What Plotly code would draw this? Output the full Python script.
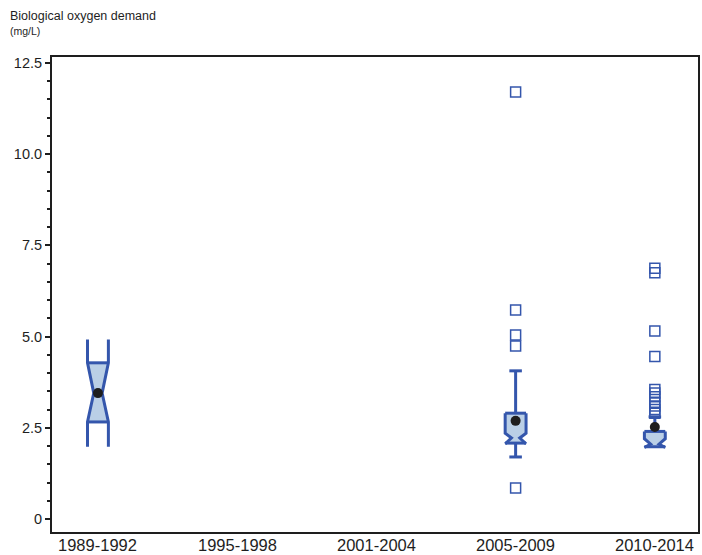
import plotly.graph_objects as go

# ---- data ----
categories = ["1989-1992", "1995-1998", "2001-2004", "2005-2009", "2010-2014"]
q1 = [2.66, None, None, 2.08, 1.98]
median = [3.45, None, None, 2.22, 2.05]
q3 = [4.28, None, None, 2.90, 2.40]
notch_lo = [1.98, None, None, 2.06, 1.96]
notch_hi = [4.92, None, None, 2.35, 2.20]
whisker_lo = [None, None, None, 1.70, None]
whisker_hi = [None, None, None, 4.06, 2.80]
means = [3.45, None, None, 2.69, 2.52]
outliers = [
    [],
    [],
    [],
    [11.7, 5.73, 5.04, 4.74, 0.85],
    [6.87, 6.75, 5.15, 4.45, 3.55, 3.45, 3.35, 3.2, 3.1, 3.0, 2.9],
]
y_tickvals = [0, 2.5, 5.0, 7.5, 10.0, 12.5]
y_ticktext = ["0", "2.5", "5.0", "7.5", "10.0", "12.5"]

# ---- style ----
BLUE = "rgb(52,86,172)"
FILL = "rgb(186,207,230)"
INK = "rgb(30,30,30)"
HW = 0.075      # box half width (x units)
WAIST = 0.03    # notch waist half width
CAP = 0.045     # whisker cap half width
LW = 3

fig = go.Figure()

for i, cat in enumerate(categories):
    if q1[i] is None:
        continue
    x0 = i
    pts = sorted([(q3[i], HW), (notch_hi[i], HW), (median[i], WAIST),
                  (q1[i], HW), (notch_lo[i], HW)], key=lambda p: -p[0])
    # fill (between Q1 and Q3)
    inner = [p for p in pts if q1[i] - 1e-9 <= p[0] <= q3[i] + 1e-9]
    fx = [x0 - w for y, w in inner] + [x0 + w for y, w in reversed(inner)]
    fy = [y for y, w in inner] + [y for y, w in reversed(inner)]
    fig.add_trace(go.Scatter(x=fx, y=fy, fill="toself", fillcolor=FILL,
                             mode="none", hoverinfo="skip", showlegend=False))
    # whiskers
    for wv, base in ((whisker_hi[i], q3[i]), (whisker_lo[i], q1[i])):
        if wv is None:
            continue
        fig.add_trace(go.Scatter(x=[x0, x0, None, x0 - CAP, x0 + CAP],
                                 y=[base, wv, None, wv, wv], mode="lines",
                                 line=dict(color=BLUE, width=LW),
                                 hoverinfo="skip", showlegend=False))
    # outline sides
    lx = [x0 - w for y, w in pts]
    rx = [x0 + w for y, w in pts]
    ys = [y for y, w in pts]
    fig.add_trace(go.Scatter(
        x=lx + [None] + rx + [None, x0 - HW, x0 + HW, None, x0 - HW, x0 + HW],
        y=ys + [None] + ys + [None, q3[i], q3[i], None, q1[i], q1[i]],
        mode="lines", line=dict(color=BLUE, width=LW),
        hoverinfo="skip", showlegend=False))
    # outliers
    if outliers[i]:
        fig.add_trace(go.Scatter(x=[x0] * len(outliers[i]), y=outliers[i],
                                 mode="markers",
                                 marker=dict(symbol="square-open", size=10,
                                             color=BLUE, line=dict(width=1.5)),
                                 showlegend=False))
    # mean
    fig.add_trace(go.Scatter(x=[x0], y=[means[i]], mode="markers",
                             marker=dict(color=INK, size=10),
                             showlegend=False))

# category labels placed just below the axis line
x_labels = [dict(text=c, x=i, xref="x", yref="paper", y=-0.004,
                 xanchor="center", yanchor="top", showarrow=False,
                 font=dict(size=16.5, color=INK))
            for i, c in enumerate(categories)]

fig.update_layout(
    width=702, height=555,
    margin=dict(l=52, r=4, t=57, b=23, autoexpand=False),
    paper_bgcolor="white", plot_bgcolor="white",
    font=dict(family="Liberation Sans, Arial, sans-serif", color=INK),
    showlegend=False,
    xaxis=dict(range=[-0.33, 4.31], tickvals=list(range(len(categories))),
               ticktext=categories, showticklabels=False, ticks="",
               showgrid=False, zeroline=False,
               showline=True, linecolor=INK, linewidth=2, mirror=True,
               automargin=False),
    yaxis=dict(range=[-0.356, 12.66], tickvals=y_tickvals, ticktext=y_ticktext,
               ticks="outside", ticklen=5, tickwidth=2, tickcolor=INK,
               minor=dict(dtick=0.5, tick0=0, ticks="outside", ticklen=3,
                          tickwidth=2, tickcolor=INK, showgrid=False),
               showgrid=False, zeroline=False, showline=True,
               linecolor=INK, linewidth=2, mirror=True,
               tickfont=dict(size=14.5), automargin=False),
    annotations=[
        dict(text="Biological oxygen demand", xref="paper", yref="paper",
             x=-0.068, y=1.086, xanchor="left", yanchor="middle",
             showarrow=False, font=dict(size=12.5)),
        dict(text="(mg/L)", xref="paper", yref="paper",
             x=-0.068, y=1.054, xanchor="left", yanchor="middle",
             showarrow=False, font=dict(size=10.5)),
    ] + x_labels,
)

fig.write_html("out.html", config={"displayModeBar": False},
               post_script="document.body.style.margin='0';document.body.style.padding='0';")
